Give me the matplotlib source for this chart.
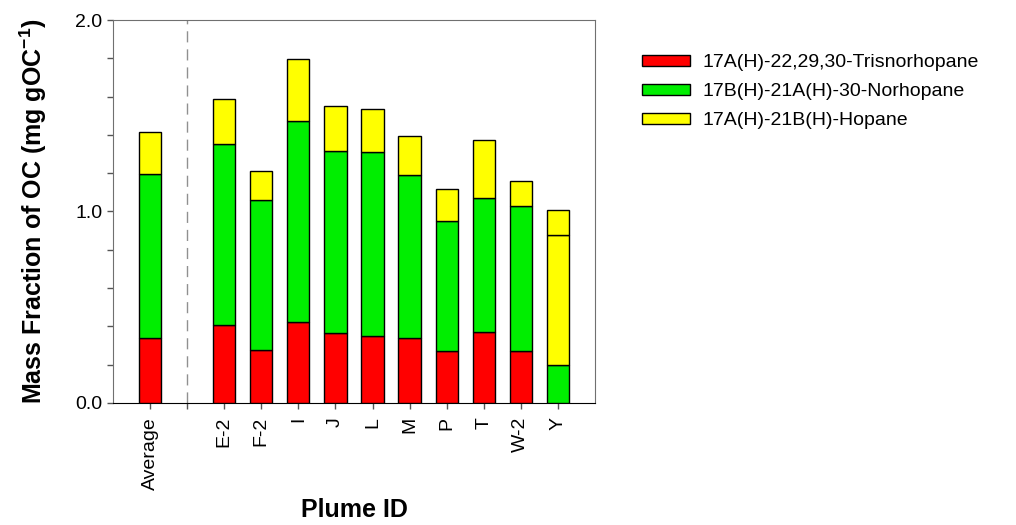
import numpy as np
import matplotlib
matplotlib.use("Agg")
from matplotlib import pyplot as plt
from matplotlib.patches import Patch

plt.rcParams['font.family'] = ['Liberation Sans', 'DejaVu Sans']

# Plume categories (slot 1 is an empty gap holding the dashed divider)
plumes = ['Average', '', 'E-2', 'F-2', 'I', 'J', 'L', 'M', 'P', 'T', 'W-2', 'Y']

# Stacked components (mg gOC^-1)
trisnorhopane = [0.341, 0, 0.409, 0.275, 0.423, 0.367, 0.350, 0.341, 0.273, 0.372, 0.273, 0.0]
norhopane = [0.856, 0, 0.946, 0.786, 1.048, 0.948, 0.961, 0.850, 0.677, 0.698, 0.755, 0.198]
hopane = [0.217, 0, 0.235, 0.153, 0.324, 0.236, 0.225, 0.202, 0.165, 0.304, 0.129, 0.679]
hopane_top = [0, 0, 0, 0, 0, 0, 0, 0, 0, 0, 0, 0.130]   # extra segment drawn on Y

labels = ['17A(H)-22,29,30-Trisnorhopane',
          '17B(H)-21A(H)-30-Norhopane',
          '17A(H)-21B(H)-Hopane']
colors = ['#ff0000', '#00ee00', '#ffff00']

fig = plt.figure(figsize=(10.16, 5.25), dpi=100)
ax = fig.add_axes([0.1112, 0.2324, 0.4744, 0.7295])

x = np.arange(len(plumes))
keep = np.array([p != '' for p in plumes])
xs = x[keep]

def pick(vals):
    return np.array(vals, dtype=float)[keep]

bottom = np.zeros(len(xs))
for vals, col in zip([trisnorhopane, norhopane, hopane, hopane_top],
                     colors + [colors[2]]):
    v = pick(vals)
    show = v > 0
    ax.bar(xs[show], v[show], width=0.6, bottom=bottom[show], color=col,
           edgecolor='black', linewidth=1.0, zorder=3)
    bottom += v

# dashed divider between Average and individual plumes
ax.axvline(1, color='#909090', linestyle=(0, (8, 5)), linewidth=1.0, zorder=1)

ax.set_xlim(-1, 12)
ax.set_ylim(0, 2.0)
ax.set_yticks([0.0, 1.0, 2.0])
ax.set_yticklabels(['0.0', '1.0', '2.0'])
ax.set_yticks(np.arange(0.2, 2.0, 0.2), minor=True)
ax.set_xticks(x)
ax.set_xticklabels(plumes, rotation=90)
ax.tick_params(axis='both', which='both', direction='out', length=4,
               width=1.0, color='#555555', labelsize=14)
ax.tick_params(axis='x', pad=6)

for side in ['left', 'top', 'right']:
    ax.spines[side].set_color('#707070')
ax.spines['bottom'].set_color('black')

ax.set_ylabel('Mass Fraction of OC (mg gOC$^{\\mathregular{-1}}$)',
              fontsize=18, fontweight='bold', labelpad=19)
ax.set_xlabel('Plume ID', fontsize=18, fontweight='bold', labelpad=6)

handles = [Patch(facecolor=c, edgecolor='black', linewidth=1.0) for c in colors]
fig.legend(handles, labels, loc='upper left', bbox_to_anchor=(0.622, 0.915),
           frameon=False, fontsize=14, handlelength=2.5, handleheight=0.55,
           handletextpad=0.65, labelspacing=0.62, borderpad=0)

fig.savefig('out.png', dpi=100)
